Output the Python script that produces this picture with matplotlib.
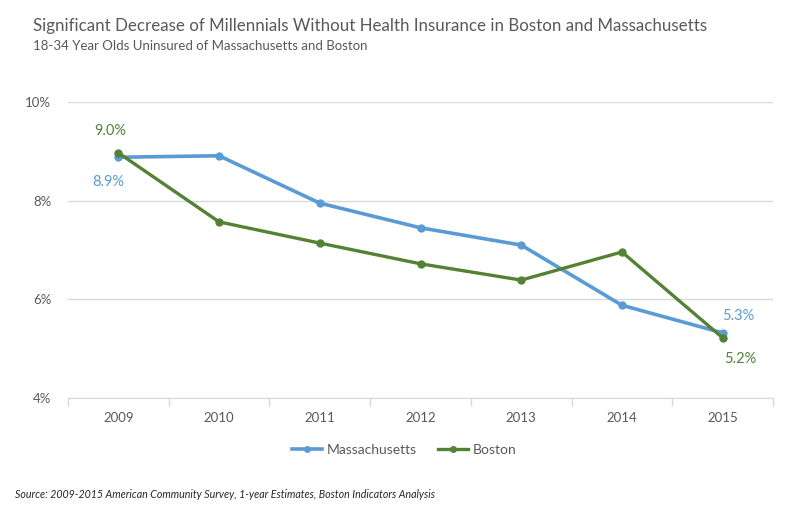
import matplotlib
matplotlib.use("Agg")
import matplotlib.pyplot as plt
from matplotlib.ticker import FixedLocator, FuncFormatter
from matplotlib.lines import Line2D

years = [2009, 2010, 2011, 2012, 2013, 2014, 2015]
massachusetts = [8.88, 8.91, 7.95, 7.45, 7.10, 5.88, 5.32]
boston = [8.97, 7.57, 7.14, 6.72, 6.39, 6.96, 5.22]
yticks = [4, 6, 8, 10]

blue = "#5B9BD5"
green = "#548235"
grey = "#595959"

plt.rcParams['font.family'] = ['Lato', 'DejaVu Sans']

fig = plt.figure(figsize=(7.85, 5.11), dpi=100)
ax = fig.add_axes([68/785, 1-398/511, (773-68)/785, (398-102)/511])

x = list(range(len(years)))
ax.plot(x, massachusetts, color=blue, lw=2.6, marker='o', ms=5, zorder=3)
ax.plot(x, boston, color=green, lw=2.4, marker='o', ms=5, zorder=4)

ax.set_xlim(-0.5, len(years)-0.5)
ax.set_ylim(4, 10)
ax.yaxis.set_major_locator(FixedLocator(yticks))
ax.yaxis.set_major_formatter(FuncFormatter(lambda v, p: f"{v:.0f}%"))
ax.set_xticks(x)
ax.set_xticklabels([str(y) for y in years])
ax.set_xticks([i - 0.5 for i in range(len(years)+1)], minor=True)
ax.tick_params(axis='x', which='major', length=0, pad=10, labelsize=9.5, colors=grey)
ax.tick_params(axis='x', which='minor', length=6, color='#D9D9D9', width=1)
ax.tick_params(axis='y', length=0, pad=12, labelsize=9.5, colors=grey)
ax.grid(axis='y', color='#D9D9D9', lw=1)
ax.set_axisbelow(True)
for s in ['top', 'right', 'left']:
    ax.spines[s].set_visible(False)
ax.spines['bottom'].set_color('#D9D9D9')

# data labels
ax.annotate(f"{boston[0]:.1f}%", (x[0], boston[0]), xytext=(-6, 16), textcoords='offset points',
            ha='center', va='center', color=green, fontsize=10.5)
ax.annotate(f"{massachusetts[0]:.1f}%", (x[0], massachusetts[0]), xytext=(-7, -18), textcoords='offset points',
            ha='center', va='center', color=blue, fontsize=10.5)
ax.annotate(f"{massachusetts[-1]:.1f}%", (x[-1], massachusetts[-1]), xytext=(11, 12), textcoords='offset points',
            ha='center', va='center', color=blue, fontsize=10.5)
ax.annotate(f"{boston[-1]:.1f}%", (x[-1], boston[-1]), xytext=(13, -15), textcoords='offset points',
            ha='center', va='center', color=green, fontsize=10.5)

fig.text(33/785, 1-26/511, "Significant Decrease of Millennials Without Health Insurance in Boston and Massachusetts",
         ha='left', va='center', fontsize=12.2, color=grey)
fig.text(33/785, 1-46/511, "18-34 Year Olds Uninsured of Massachusetts and Boston",
         ha='left', va='center', fontsize=9.5, color=grey)
fig.text(15/785, 1-494/511, "Source: 2009-2015 American Community Survey, 1-year Estimates, Boston Indicators Analysis",
         ha='left', va='center', fontsize=7.7, color='#262626', style='italic')

handles = [Line2D([], [], color=blue, lw=2.6, marker='o', ms=4),
           Line2D([], [], color=green, lw=2.4, marker='o', ms=4)]
fig.legend(handles, ["Massachusetts", "Boston"], loc='center', bbox_to_anchor=(404/785, 1-450/511),
           ncol=2, frameon=False, fontsize=10, labelcolor=grey, handlelength=2.2, handletextpad=0.3,
           columnspacing=1.5)

fig.savefig("out.png", dpi=100)
